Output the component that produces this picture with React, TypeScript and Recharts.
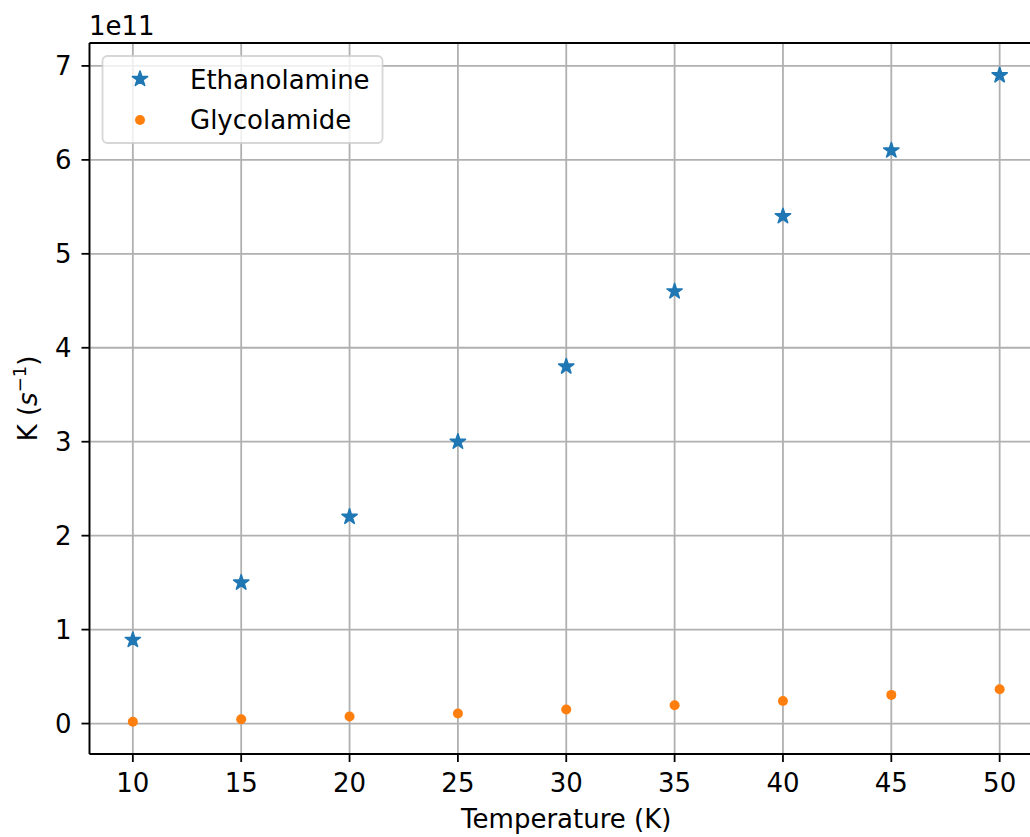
import {
  ScatterChart,
  Scatter,
  XAxis,
  YAxis,
  CartesianGrid,
  ReferenceLine,
  Label,
} from "recharts";

const temperatures = [10, 15, 20, 25, 30, 35, 40, 45, 50];
const ethanolamineK = [
  0.89e11, 1.5e11, 2.2e11, 3.0e11, 3.8e11, 4.6e11, 5.4e11, 6.1e11, 6.9e11,
];
const glycolamideK = [
  0.02e11, 0.046e11, 0.075e11, 0.107e11, 0.15e11, 0.195e11, 0.24e11, 0.305e11,
  0.365e11,
];
const xTicks = [10, 15, 20, 25, 30, 35, 40, 45, 50];
const yTicks = [0, 1e11, 2e11, 3e11, 4e11, 5e11, 6e11, 7e11];

const FONT = "'DejaVu Sans', sans-serif";
const BLUE = "#1f77b4";
const ORANGE = "#ff7f0e";

const ethanolamineData = temperatures.map((t, i) => ({ x: t, y: ethanolamineK[i] }));
const glycolamideData = temperatures.map((t, i) => ({ x: t, y: glycolamideK[i] }));

// matplotlib-like 5% margins
const allY = [...ethanolamineK, ...glycolamideK];
const yLo = Math.min(...allY);
const yHi = Math.max(...allY);
const yMin = yLo - (yHi - yLo) * 0.05;
const yMax = yHi + (yHi - yLo) * 0.05;

function starPath(cx: number, cy: number, r: number) {
  const pts: string[] = [];
  for (let i = 0; i < 10; i++) {
    const a = ((-90 + i * 36) * Math.PI) / 180;
    const rr = i % 2 === 0 ? r : r * 0.381966;
    pts.push(`${(cx + rr * Math.cos(a)).toFixed(2)},${(cy + rr * Math.sin(a)).toFixed(2)}`);
  }
  return "M" + pts.join("L") + "Z";
}

const StarDot = (props: any) => (
  <path
    d={starPath(props.cx, props.cy, 8)}
    fill={BLUE}
    stroke={BLUE}
    strokeWidth={1.6}
    strokeLinejoin="round"
  />
);

const RoundDot = (props: any) => (
  <circle cx={props.cx} cy={props.cy} r={5} fill={ORANGE} />
);

const XLabel = (props: any) => {
  const vb = props.viewBox;
  return (
    <text
      x={vb.x + vb.width / 2}
      y={vb.y + 74}
      textAnchor="middle"
      fontSize={26}
      fontFamily={FONT}
      fill="#000"
    >
      Temperature (K)
    </text>
  );
};

const YLabel = (props: any) => {
  const vb = props.viewBox;
  const cx = 37;
  const cy = vb.y + vb.height / 2;
  return (
    <text
      x={cx}
      y={cy}
      transform={`rotate(-90, ${cx}, ${cy})`}
      textAnchor="middle"
      fontSize={26}
      fontFamily={FONT}
      fill="#000"
    >
      <tspan>K (</tspan>
      <tspan fontStyle="italic">s</tspan>
      <tspan fontSize={18} dy={-11}>−1</tspan>
      <tspan dy={11}>)</tspan>
    </text>
  );
};

export default function App() {
  return (
    <div
      style={{
        position: "absolute",
        left: 0,
        top: 0,
        width: 1030,
        height: 837,
        overflow: "hidden",
        background: "#fff",
        fontFamily: FONT,
      }}
    >
      <ScatterChart
        width={1060}
        height={837}
        margin={{ top: 43, right: 17, bottom: 0, left: 0 }}
      >
        <CartesianGrid stroke="#b0b0b0" strokeWidth={1.8} />
        <XAxis
          type="number"
          dataKey="x"
          domain={[8, 52]}
          ticks={xTicks}
          allowDataOverflow
          height={83}
          tickSize={8}
          tickMargin={12}
          axisLine={{ stroke: "#000", strokeWidth: 1.8 }}
          tickLine={{ stroke: "#000", strokeWidth: 1.8 }}
          tick={{ fill: "#000", fontSize: 26, fontFamily: FONT }}
        >
          <Label content={<XLabel />} />
        </XAxis>
        <YAxis
          type="number"
          dataKey="y"
          domain={[yMin, yMax]}
          ticks={yTicks}
          allowDataOverflow
          width={89.5}
          tickSize={8}
          tickMargin={10}
          tickFormatter={(v: number) => String(Math.round(v / 1e11))}
          axisLine={{ stroke: "#000", strokeWidth: 1.8 }}
          tickLine={{ stroke: "#000", strokeWidth: 1.8 }}
          tick={{ fill: "#000", fontSize: 26, fontFamily: FONT }}
        >
          <Label content={<YLabel />} />
        </YAxis>
        <ReferenceLine y={yMax} stroke="#000" strokeWidth={1.8} />
        <Scatter
          name="Ethanolamine"
          data={ethanolamineData}
          shape={<StarDot />}
          isAnimationActive={false}
        />
        <Scatter
          name="Glycolamide"
          data={glycolamideData}
          shape={<RoundDot />}
          isAnimationActive={false}
        />
      </ScatterChart>
      <svg
        width={1030}
        height={837}
        style={{ position: "absolute", left: 0, top: 0, pointerEvents: "none" }}
      >
        <text x={89} y={35} fontSize={26} fontFamily={FONT} fill="#000">
          1e11
        </text>
        <rect
          x={102.5}
          y={56}
          width={280}
          height={87}
          rx={5}
          fill="rgba(255,255,255,0.8)"
          stroke="#cccccc"
          strokeOpacity={0.8}
          strokeWidth={1.8}
        />
        <path
          d={starPath(140, 79, 8)}
          fill={BLUE}
          stroke={BLUE}
          strokeWidth={1.6}
          strokeLinejoin="round"
        />
        <text x={190} y={89} fontSize={26} fontFamily={FONT} fill="#000">
          Ethanolamine
        </text>
        <circle cx={140} cy={120} r={5} fill={ORANGE} />
        <text x={190} y={129} fontSize={26} fontFamily={FONT} fill="#000">
          Glycolamide
        </text>
      </svg>
    </div>
  );
}
